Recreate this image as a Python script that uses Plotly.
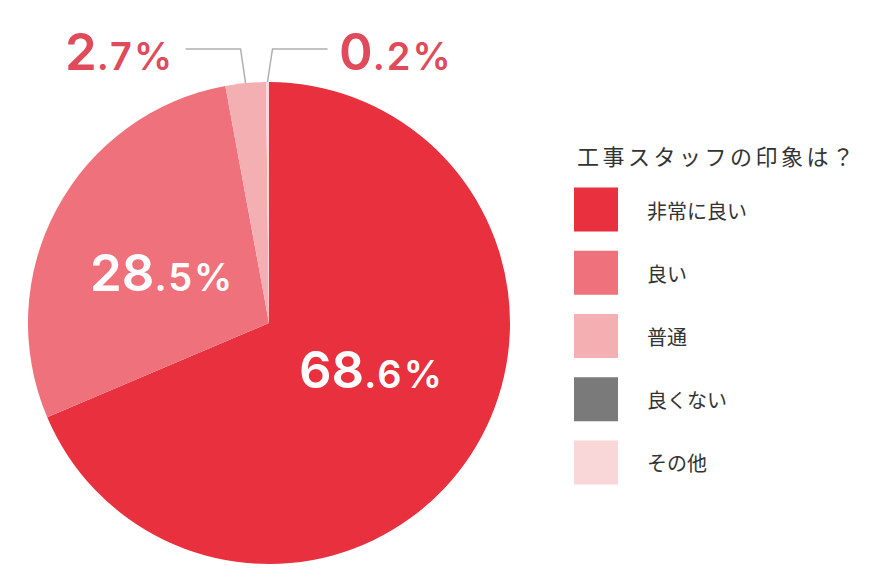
import math

import plotly.graph_objects as go

# data
labels = ["非常に良い", "良い", "普通", "良くない", "その他"]
values = [68.6, 28.5, 2.7, 0.0, 0.2]
colors = ["#e8303f", "#ef717b", "#f3afb1", "#7a7a7a", "#f9d6d7"]
legend_title = "工事スタッフの印象は？"

W, H = 888, 588
CX, CY, R = 269, 323, 241
RED_TEXT = "#e04b5c"
NUM_FONT = "Inter"
JP_FONT = "Noto Sans CJK JP"
LABEL_R = 0.48          # inside labels, fraction of radius
LABEL_TURN = -6         # inside labels, degrees off the slice middle


def px(x):
    return x / W


def py(y):
    return 1 - y / H


def pct_html(v, big=51, small=38):
    whole, dec = f"{v:.1f}".split(".")
    return (f"<span style='font-size:{big}px'>{whole}</span>"
            f"<span style='font-size:{small}px;letter-spacing:2px'>.{dec}%</span>")


def slice_mid_angles(vals):
    total = sum(vals)
    out, acc = [], 0.0
    for v in vals:
        out.append(2 * math.pi * (acc + v / 2) / total)
        acc += v
    return out


fig = go.Figure()

fig.add_trace(go.Pie(
    labels=labels,
    values=values,
    marker=dict(colors=colors, line=dict(width=0)),
    sort=False,
    direction="clockwise",
    rotation=0,
    textinfo="none",
    hoverinfo="label+percent",
    showlegend=False,
    domain=dict(x=[px(CX - R), px(CX + R)], y=[py(CY + R), py(CY - R)]),
))

# legend drawn as square markers on a hidden category axis
fig.add_trace(go.Scatter(
    x=[0] * len(labels),
    y=labels,
    mode="markers",
    marker=dict(symbol="square", size=44, color=colors, line=dict(width=0)),
    xaxis="x", yaxis="y",
    hoverinfo="skip",
    cliponaxis=False,
    showlegend=False,
))
fig.add_trace(go.Scatter(
    x=[1] * len(labels),
    y=labels,
    mode="text",
    text=labels,
    textposition="middle right",
    textfont=dict(family=JP_FONT, size=20, color="#333333"),
    xaxis="x", yaxis="y2",
    hoverinfo="skip",
    cliponaxis=False,
    showlegend=False,
))

annotations = [dict(
    x=px(575), y=py(155), xref="paper", yref="paper",
    xanchor="left", yanchor="middle", showarrow=False,
    text=f"<span style='letter-spacing:3.5px'>{legend_title}</span>",
    font=dict(family=JP_FONT, size=22, color="#333333"),
)]
shapes = []

mids = slice_mid_angles(values)
for v, a in zip(values, mids):
    if v <= 0:
        continue
    if v >= 10:
        r = LABEL_R * R
        t = a + math.radians(LABEL_TURN)
        x = CX + r * math.sin(t)
        y = CY - r * math.cos(t) - 7
        annotations.append(dict(
            x=px(x), y=py(y), xref="paper", yref="paper",
            xanchor="center", yanchor="middle", showarrow=False,
            text=pct_html(v),
            font=dict(family=NUM_FONT, size=51, color="white", weight=600),
        ))
    else:
        side = -1 if math.sin(a) < 0 and v > 1 else 1
        x0 = CX + R * math.sin(a)
        y0 = CY - R * math.cos(a)
        ex, ey = x0 + side * 5, CY - R - 33
        hx = ex + side * 55
        shapes.append(dict(
            type="path", xref="paper", yref="paper",
            path=f"M {px(x0)},{py(y0)} L {px(ex)},{py(ey)} L {px(hx)},{py(ey)}",
            line=dict(color="#b0b0b0", width=1.5),
        ))
        annotations.append(dict(
            x=px(hx + side * 10), y=py(ey + 3), xref="paper", yref="paper",
            xanchor="right" if side < 0 else "left", yanchor="middle",
            showarrow=False,
            text=pct_html(v),
            font=dict(family=NUM_FONT, size=51, color=RED_TEXT, weight=600),
        ))

fig.update_layout(
    width=W, height=H,
    margin=dict(l=0, r=0, t=0, b=0),
    paper_bgcolor="white",
    plot_bgcolor="rgba(0,0,0,0)",
    xaxis=dict(domain=[px(596), px(647)], range=[0, 1], visible=False, fixedrange=True),
    yaxis=dict(domain=[py(494), py(178)], range=[4.5, -0.5], type="category",
               categoryorder="array", categoryarray=labels, visible=False, fixedrange=True),
    yaxis2=dict(domain=[py(498), py(182)], range=[4.5, -0.5], type="category",
                categoryorder="array", categoryarray=labels, visible=False, fixedrange=True),
    annotations=annotations,
    shapes=shapes,
)

# the page body has a default 8px margin; drop it so pixel positions line up
fig.write_html("out.html", config={"displayModeBar": False},
               post_script="document.body.style.margin='0';")
